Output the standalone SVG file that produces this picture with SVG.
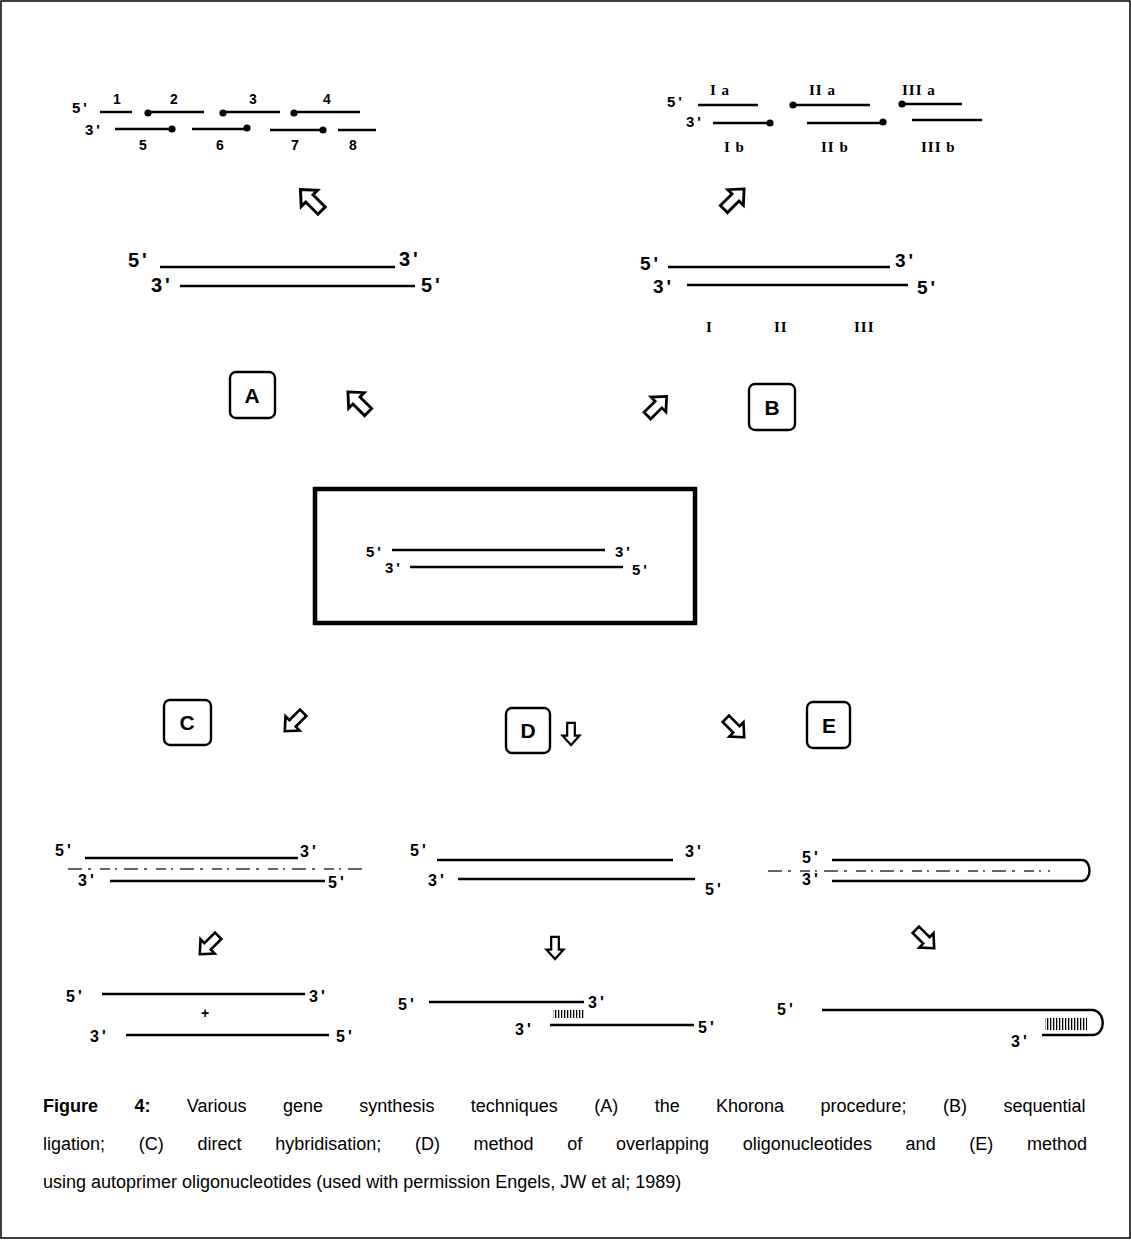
<svg xmlns="http://www.w3.org/2000/svg" xmlns:xlink="http://www.w3.org/1999/xlink" width="1131" height="1240" viewBox="0 0 1131 1240">
  <style>
    .strand { stroke: #000; stroke-width: 2.4; fill: none; stroke-linecap: butt; }
    .dash { stroke: #333; stroke-width: 1.4; fill: none; stroke-dasharray: 14 6 3 9 10 5 2 7; }
    .end { font-family: "Liberation Sans", Arial, sans-serif; font-weight: bold; fill: #000; letter-spacing: 3px; }
    .num { font-family: "Liberation Sans", Arial, sans-serif; font-weight: bold; font-size: 14px; fill: #000; }
    .roman { font-family: "Liberation Serif", "Times New Roman", serif; font-weight: bold; font-size: 15px; fill: #000; letter-spacing: 1px; }
    .tag rect { fill: #fff; stroke: #000; stroke-width: 2.4; }
    .tag text { font-family: "Liberation Sans", Arial, sans-serif; font-weight: bold; font-size: 21px; text-anchor: middle; fill: #000; }
    .arrow { fill: #fff; stroke: #000; stroke-width: 2.6; stroke-linejoin: miter; }
    .cap { font-family: "Liberation Sans", Arial, sans-serif; font-size: 18px; fill: #000; }
  </style>
  <defs>
    <!-- hollow block arrow pointing up, centred on the origin -->
    <path id="blk" class="arrow" d="M0,-13 L10,-2 L4.5,-2 L4.5,13 L-4.5,13 L-4.5,-2 L-10,-2 Z"/>
    <pattern id="hatch" width="3" height="20" patternUnits="userSpaceOnUse">
      <rect x="0" y="0" width="1.3" height="20" fill="#000"/>
    </pattern>
  </defs>

  <rect x="1" y="1" width="1129" height="1237" fill="#fff" stroke="#000" stroke-width="1.5"/>

  <!-- A: Khorana fragments -->
  <g id="A-fragments">
    <text class="end" x="72" y="113" font-size="15">5'</text>
    <text class="end" x="85" y="135" font-size="15">3'</text>
    <line class="strand" x1="100" y1="112" x2="132" y2="112"/>
    <line class="strand" x1="148" y1="112" x2="204" y2="112"/>
    <line class="strand" x1="223" y1="112" x2="280" y2="112"/>
    <line class="strand" x1="294" y1="112" x2="360" y2="112"/>
    <circle cx="148" cy="113" r="3.6"/>
    <circle cx="223" cy="113" r="3.6"/>
    <circle cx="294" cy="113" r="3.6"/>
    <line class="strand" x1="115" y1="129" x2="172" y2="129"/>
    <line class="strand" x1="192" y1="129" x2="247" y2="129"/>
    <line class="strand" x1="270" y1="130" x2="323" y2="130"/>
    <line class="strand" x1="338" y1="130" x2="376" y2="130"/>
    <circle cx="172" cy="129" r="3.6"/>
    <circle cx="247" cy="128" r="3.6"/>
    <circle cx="323" cy="130" r="3.6"/>
    <text class="num" x="113" y="104">1</text>
    <text class="num" x="170" y="104">2</text>
    <text class="num" x="249" y="104">3</text>
    <text class="num" x="323" y="104">4</text>
    <text class="num" x="139" y="150">5</text>
    <text class="num" x="216" y="150">6</text>
    <text class="num" x="291" y="150">7</text>
    <text class="num" x="349" y="150">8</text>
  </g>

  <!-- B: sequential ligation fragments -->
  <g id="B-fragments">
    <text class="end" x="667" y="107" font-size="15">5'</text>
    <text class="end" x="686" y="127" font-size="15">3'</text>
    <line class="strand" x1="698" y1="105" x2="758" y2="105"/>
    <line class="strand" x1="793" y1="105" x2="870" y2="105"/>
    <line class="strand" x1="902" y1="104" x2="962" y2="104"/>
    <circle cx="793" cy="105" r="3.6"/>
    <circle cx="902" cy="104" r="3.6"/>
    <line class="strand" x1="713" y1="123" x2="770" y2="123"/>
    <line class="strand" x1="807" y1="123" x2="883" y2="123"/>
    <line class="strand" x1="912" y1="120" x2="982" y2="120"/>
    <circle cx="770" cy="123" r="3.6"/>
    <circle cx="883" cy="122" r="3.6"/>
    <text class="roman" x="710" y="95">I a</text>
    <text class="roman" x="809" y="95">II a</text>
    <text class="roman" x="902" y="95">III a</text>
    <text class="roman" x="724" y="152">I b</text>
    <text class="roman" x="821" y="152">II b</text>
    <text class="roman" x="921" y="152">III b</text>
  </g>

  <!-- A: intermediate duplex -->
  <g id="A-duplex">
    <text class="end" x="128" y="267" font-size="20">5'</text>
    <line class="strand" x1="160" y1="267" x2="395" y2="267"/>
    <text class="end" x="399" y="266" font-size="20">3'</text>
    <text class="end" x="151" y="292" font-size="20">3'</text>
    <line class="strand" x1="180" y1="286" x2="415" y2="286"/>
    <text class="end" x="421" y="292" font-size="20">5'</text>
  </g>

  <!-- B: intermediate duplex with segments I-III -->
  <g id="B-duplex">
    <text class="end" x="640" y="270" font-size="19">5'</text>
    <line class="strand" x1="668" y1="267" x2="890" y2="267"/>
    <text class="end" x="895" y="267" font-size="19">3'</text>
    <text class="end" x="653" y="293" font-size="19">3'</text>
    <line class="strand" x1="687" y1="285" x2="908" y2="285"/>
    <text class="end" x="917" y="294" font-size="19">5'</text>
    <text class="roman" x="706" y="332">I</text>
    <text class="roman" x="774" y="332">II</text>
    <text class="roman" x="854" y="332">III</text>
  </g>

  <!-- method labels -->
  <g id="tag-A" class="tag"><rect x="230" y="372" width="45" height="46" rx="6"/><text x="252" y="403">A</text></g>
  <g id="tag-B" class="tag"><rect x="749" y="384" width="46" height="46" rx="6"/><text x="772" y="415">B</text></g>
  <g id="tag-C" class="tag"><rect x="164" y="700" width="47" height="45" rx="6"/><text x="187" y="730">C</text></g>
  <g id="tag-D" class="tag"><rect x="506" y="708" width="44" height="45" rx="6"/><text x="528" y="738">D</text></g>
  <g id="tag-E" class="tag"><rect x="807" y="702" width="43" height="46" rx="6"/><text x="829" y="733">E</text></g>

  <!-- central target gene -->
  <g id="target">
    <rect x="315" y="489" width="380" height="134" fill="none" stroke="#000" stroke-width="4.5"/>
    <text class="end" x="366" y="557" font-size="15" letter-spacing="0">5'</text>
    <line class="strand" x1="392" y1="550" x2="605" y2="550"/>
    <text class="end" x="615" y="557" font-size="15" letter-spacing="0">3'</text>
    <text class="end" x="385" y="573" font-size="15" letter-spacing="0">3'</text>
    <line class="strand" x1="410" y1="567" x2="623" y2="567"/>
    <text class="end" x="632" y="575" font-size="15" letter-spacing="0">5'</text>
  </g>

  <!-- C: direct hybridisation -->
  <g id="C-duplex">
    <text class="end" x="55" y="856" font-size="16">5'</text>
    <line class="strand" x1="85" y1="858" x2="298" y2="858"/>
    <text class="end" x="300" y="857" font-size="16">3'</text>
    <line class="dash" x1="68" y1="869" x2="365" y2="869"/>
    <text class="end" x="78" y="886" font-size="16">3'</text>
    <line class="strand" x1="110" y1="881" x2="325" y2="881"/>
    <text class="end" x="328" y="888" font-size="16">5'</text>
  </g>
  <g id="C-strands">
    <text class="end" x="66" y="1002" font-size="16">5'</text>
    <line class="strand" x1="102" y1="994" x2="305" y2="994"/>
    <text class="end" x="309" y="1002" font-size="16">3'</text>
    <text class="num" x="201" y="1018" font-weight="normal" font-size="13">+</text>
    <text class="end" x="90" y="1042" font-size="16">3'</text>
    <line class="strand" x1="126" y1="1035" x2="329" y2="1035"/>
    <text class="end" x="336" y="1042" font-size="16">5'</text>
  </g>

  <!-- D: overlapping oligonucleotides -->
  <g id="D-duplex">
    <text class="end" x="410" y="856" font-size="16">5'</text>
    <line class="strand" x1="437" y1="860" x2="673" y2="860"/>
    <text class="end" x="685" y="857" font-size="16">3'</text>
    <text class="end" x="428" y="886" font-size="16">3'</text>
    <line class="strand" x1="458" y1="879" x2="695" y2="879"/>
    <text class="end" x="705" y="895" font-size="16">5'</text>
  </g>
  <g id="D-strands">
    <text class="end" x="398" y="1010" font-size="16">5'</text>
    <line class="strand" x1="429" y1="1002" x2="584" y2="1002"/>
    <text class="end" x="588" y="1008" font-size="16">3'</text>
    <rect x="553" y="1010" width="31" height="8" fill="url(#hatch)"/>
    <text class="end" x="515" y="1035" font-size="16">3'</text>
    <line class="strand" x1="550" y1="1025" x2="694" y2="1025"/>
    <text class="end" x="698" y="1033" font-size="16">5'</text>
  </g>

  <!-- E: autoprimer hairpin -->
  <g id="E-duplex">
    <text class="end" x="802" y="863" font-size="16">5'</text>
    <text class="end" x="802" y="885" font-size="16">3'</text>
    <path class="strand" d="M832,860 H1082 C1092,860 1092,881 1082,881 H832"/>
    <line class="dash" x1="768" y1="871" x2="1050" y2="871"/>
  </g>
  <g id="E-hairpin">
    <text class="end" x="777" y="1015" font-size="16">5'</text>
    <path class="strand" d="M822,1010 H1093 C1106,1012 1106,1034 1093,1035 H1042"/>
    <rect x="1045" y="1018" width="42" height="12" fill="url(#hatch)"/>
    <text class="end" x="1011" y="1047" font-size="16">3'</text>
  </g>

  <!-- process arrows -->
  <g id="connectors">
    <use xlink:href="#blk" transform="translate(311,200) rotate(-45) scale(1.15)"/>
    <use xlink:href="#blk" transform="translate(734,199) rotate(45) scale(1.1)"/>
    <use xlink:href="#blk" transform="translate(358,402) rotate(-45) scale(1.1)"/>
    <use xlink:href="#blk" transform="translate(657,406) rotate(45) scale(1.05)"/>
    <use xlink:href="#blk" transform="translate(294,722) rotate(-135)"/>
    <use xlink:href="#blk" transform="translate(571,734) rotate(180) scale(0.85)"/>
    <use xlink:href="#blk" transform="translate(735,728) rotate(135)"/>
    <use xlink:href="#blk" transform="translate(209,945) rotate(-135)"/>
    <use xlink:href="#blk" transform="translate(555,948) rotate(180) scale(0.85)"/>
    <use xlink:href="#blk" transform="translate(925,939) rotate(135)"/>
  </g>

  <!-- figure caption, justified -->
  <g id="caption" class="cap">
    <text x="43" y="1112" word-spacing="31.4"><tspan font-weight="bold">Figure 4:</tspan> Various gene synthesis techniques (A) the Khorona procedure; (B) sequential</text>
    <text x="43" y="1150" word-spacing="28.7">ligation; (C) direct hybridisation; (D) method of overlapping oligonucleotides and (E) method</text>
    <text x="43" y="1188">using autoprimer oligonucleotides  (used with permission Engels, JW et al; 1989)</text>
  </g>
</svg>
